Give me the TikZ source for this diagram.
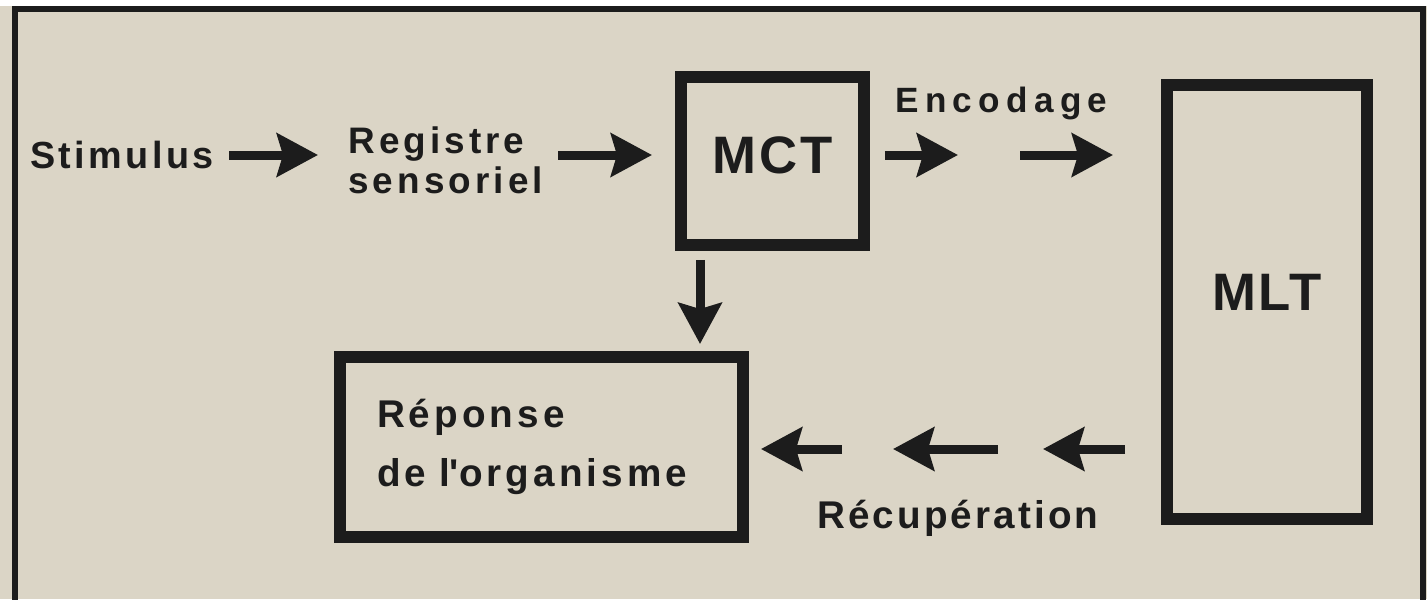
\documentclass[tikz,border=0pt]{standalone}
\usepackage{fontspec}
\setmainfont{Liberation Sans}
\usetikzlibrary{arrows.meta}
\definecolor{paper}{RGB}{219,213,198}
\definecolor{ink}{RGB}{28,28,28}
\newcommand{\lblfont}[3]{\fontsize{#1}{#2}\selectfont\bfseries\addfontfeature{LetterSpace=#3}}

\begin{document}
\begin{tikzpicture}[x=0.02cm, y=-0.02cm,
	box/.style={rectangle, draw=ink, line width=0.24cm, inner sep=0, text=ink},
	lbl/.style={inner sep=0, text=ink},
	flow/.style={draw=ink, line width=0.18cm, -{Stealth[length=0.82cm, width=0.86cm, inset=0.12cm]}}]
	\useasboundingbox (0,0) rectangle (1427,599);
	\clip (0,0) rectangle (1427,599);
	\fill[paper] (0,0) rectangle (1427,599);
	\fill[white] (0,0) rectangle (1427,6);
	\draw[ink, line width=0.13cm] (15,610) -- (15,9) -- (1423,9) -- (1423,610);

	\node (stim) [lbl, anchor=west, font=\lblfont{21.5}{24}{9}] at (30,155) {Stimulus};
	\node (reg) [lbl, anchor=west, align=left, font=\lblfont{21}{22.8}{11}] at (348,160) {Registre\\sensoriel};
	\node (mct) [box, minimum width=3.66cm, minimum height=3.36cm, text depth=0.24cm, font=\lblfont{30}{32}{5}] at (772.5,161) {MCT};
	\node (mlt) [box, minimum width=4cm, minimum height=8.68cm, text depth=0.4cm, font=\lblfont{30}{32}{5}] at (1267,302) {MLT};
	\node (rep) [box, minimum width=8.06cm, minimum height=3.6cm, text width=6.58cm, align=left, font=\lblfont{22}{33.6}{10.5}] at (541.5,447) {Réponse\\de l\textquotesingle organisme};
	\node (enc) [lbl, anchor=base west, font=\lblfont{20}{22}{18}] at (895,112) {Encodage};
	\node (recup) [lbl, anchor=base west, font=\lblfont{22}{24}{8}] at (817,528) {Récupération};

	\coordinate (e1) at (958,155);
	\coordinate (e2) at (1020,155);
	\coordinate (r1) at (1043,449);
	\coordinate (r2) at (998,449);
	\coordinate (r3) at (893,449);
	\coordinate (r4) at (842,449);

	\draw[flow, shorten <=0.3cm, shorten >=0.6cm] (stim.east) -- (reg.west |- stim.east);
	\draw[flow, shorten <=0.3cm, shorten >=0.46cm] (reg.east |- stim.east) -- (mct.west |- stim.east);
	\draw[flow, shorten <=0.3cm] (mct.east |- e1) -- (e1);
	\draw[flow, shorten >=0.96cm] (e2) -- (mlt.west |- e2);
	\draw[flow, shorten <=0.18cm, shorten >=0.14cm] ([xshift=-1.45cm]mct.south) -- ([xshift=-1.45cm]mct.south |- rep.north);
	\draw[flow, shorten <=0.72cm] (mlt.west |- r1) -- (r1);
	\draw[flow] (r2) -- (r3);
	\draw[flow, shorten >=0.24cm] (r4) -- (rep.east |- r4);
\end{tikzpicture}
\end{document}
